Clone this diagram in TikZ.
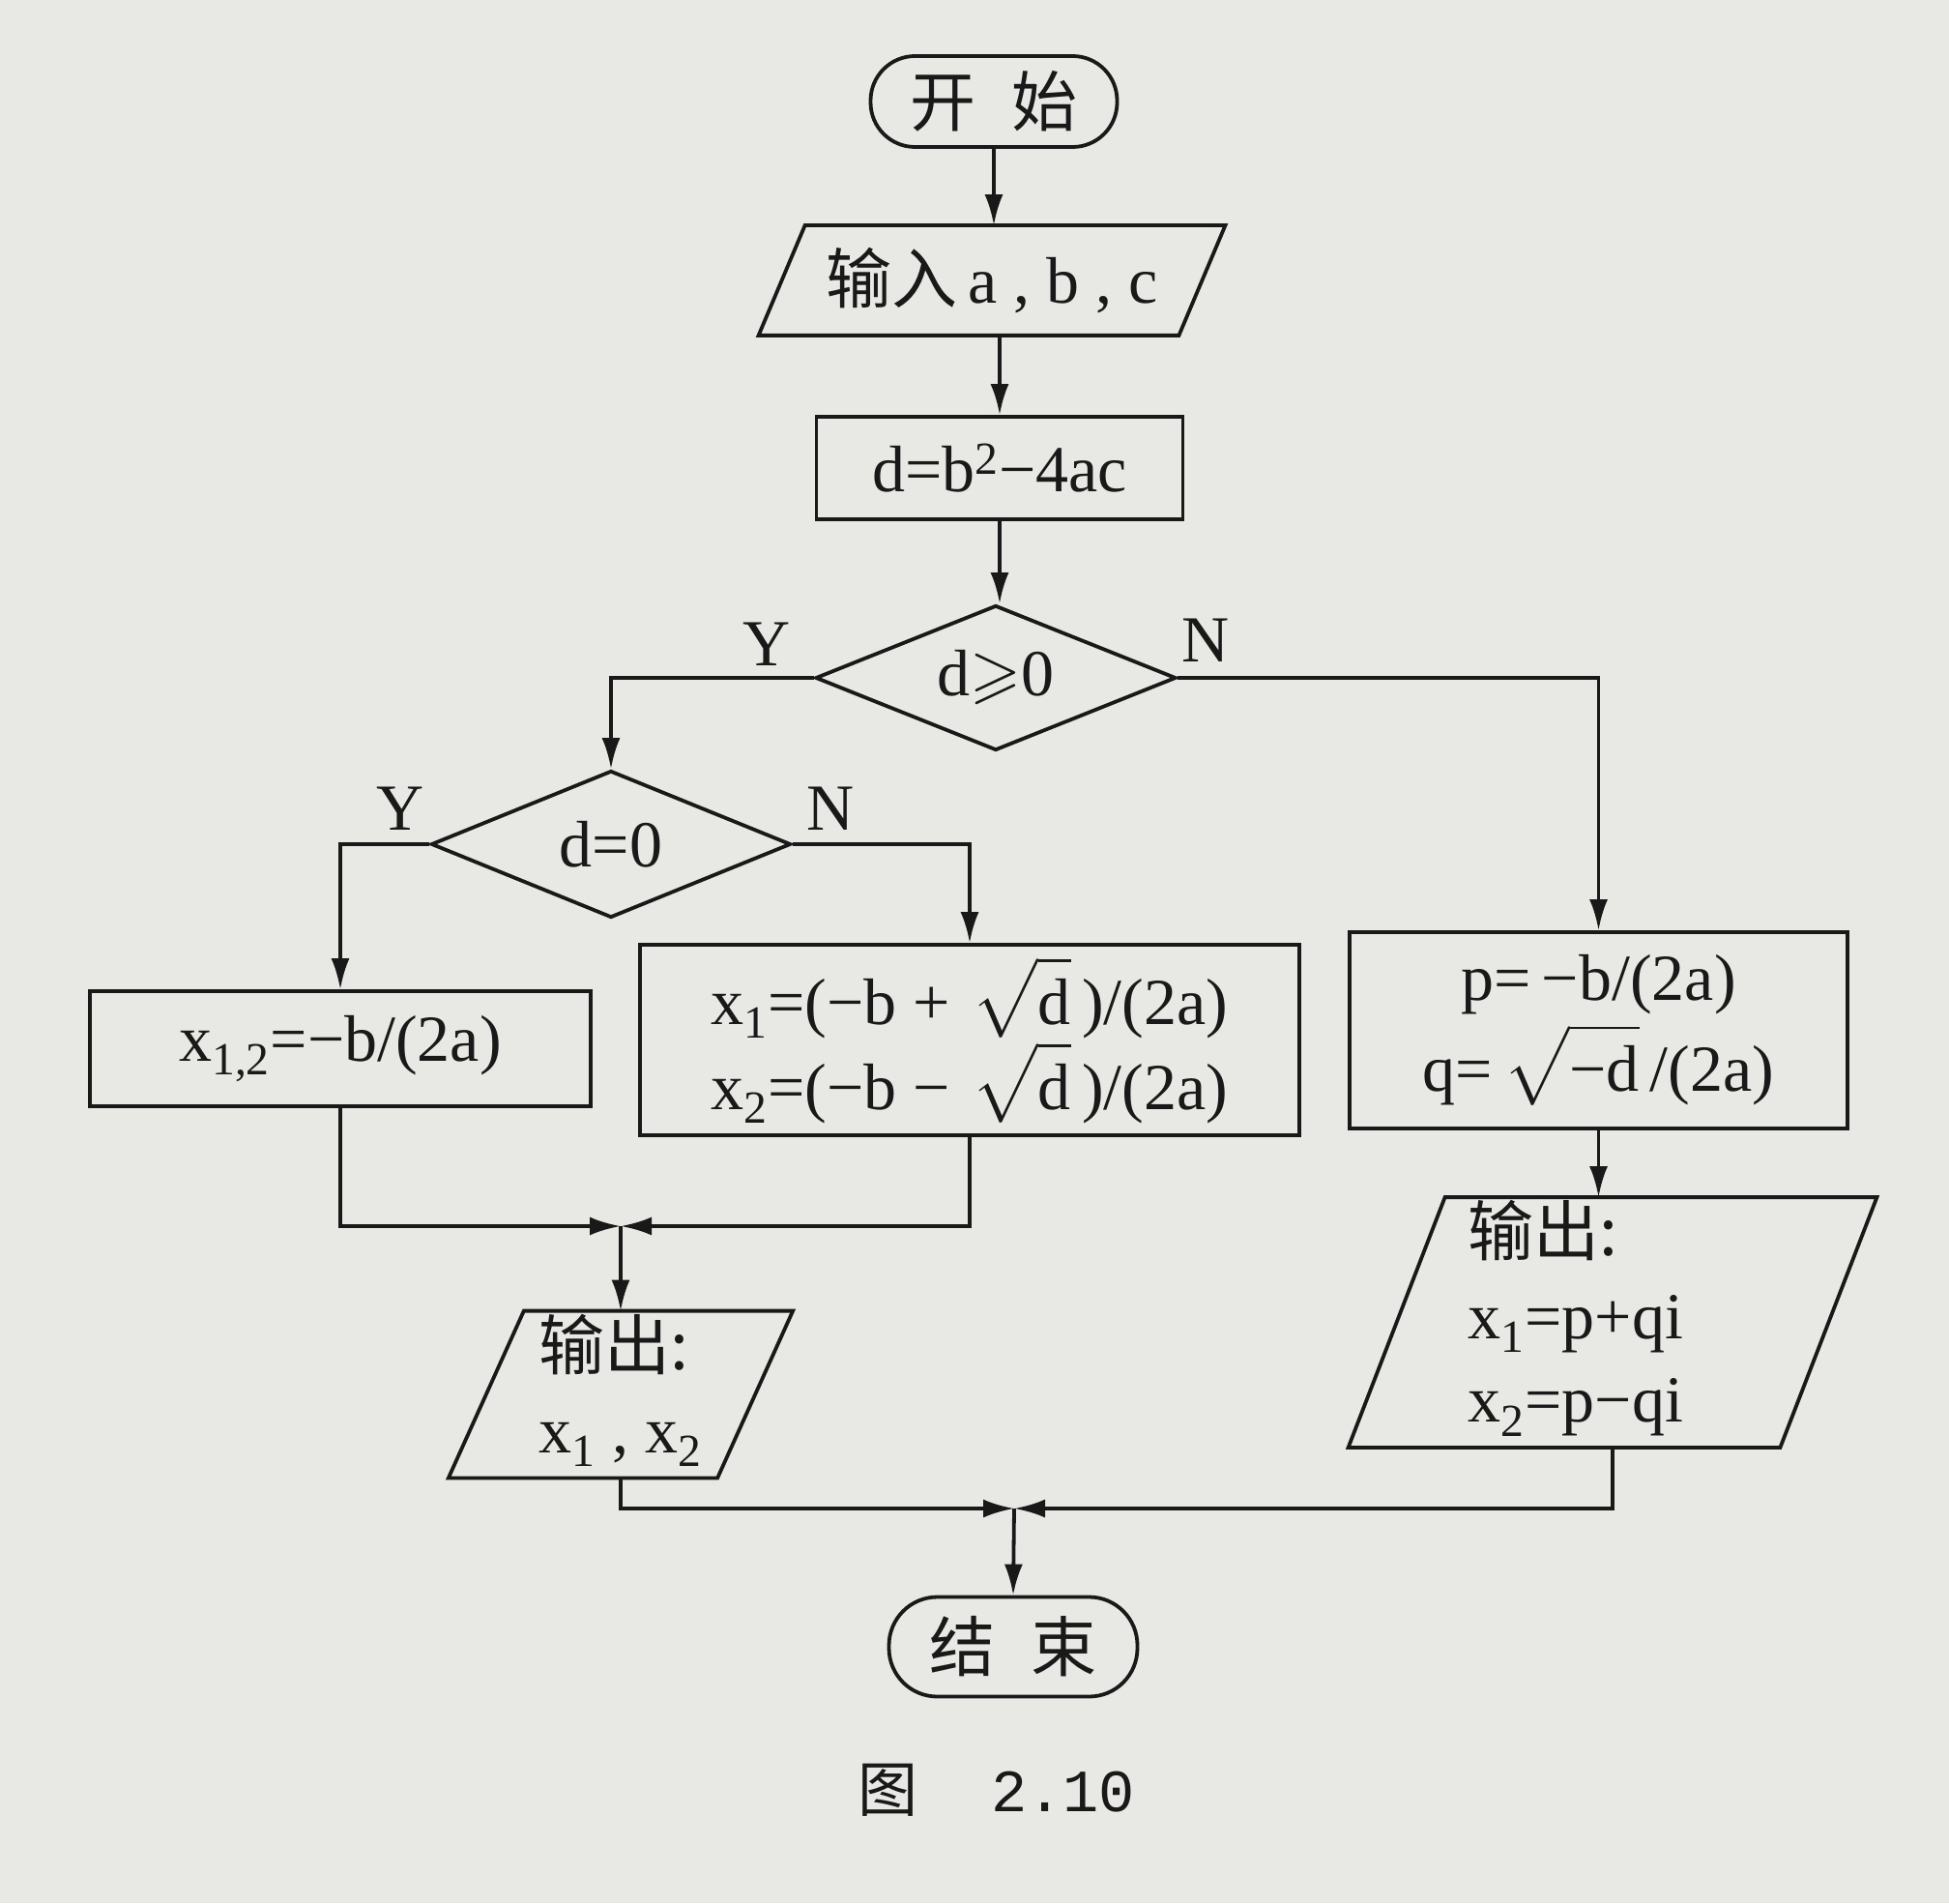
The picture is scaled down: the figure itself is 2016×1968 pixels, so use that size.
\documentclass[tikz,border=0pt]{standalone}
\usepackage{amsmath,amssymb}
\usepackage{fontspec}
\setmainfont{Liberation Serif}
\newfontfamily\cjk{Noto Sans CJK SC}
\newfontfamily\capmono{Liberation Mono}
\usetikzlibrary{arrows.meta,shapes.geometric,calc}
\definecolor{paper}{RGB}{232,232,229}
\definecolor{ink}{RGB}{25,25,25}
\begin{document}
\begin{tikzpicture}[x=0.5pt,y=-0.5pt,
  every node/.style={font=\fontsize{34}{43}\selectfont, text=ink},
  line/.style={draw=ink, line width=1.9pt},
  arr/.style={draw=ink, line width=1.9pt, -{Latex[length=16pt,width=9.5pt]}},
  term/.style={draw=ink, line width=1.9pt, rectangle, inner sep=0pt},
  procbox/.style={draw=ink, line width=1.9pt, rectangle, inner sep=0pt, align=center},
  iobox/.style={rectangle, inner sep=0pt, align=left},
  decision/.style={draw=ink, line width=1.9pt, diamond, inner sep=0pt, aspect=2.5},
  lbl/.style={inner sep=0pt}
]
\fill[paper] (0,0) rectangle (2016,1968);
\useasboundingbox (0,0) rectangle (2016,1968);

% start / end
\node[term, rounded corners=23pt, minimum width=127.5pt, minimum height=47pt] (start) at (1028,105) {\cjk 开\hspace{0.55em}始};

% input parallelogram
\node[iobox, minimum width=217pt, minimum height=56.5pt] (input) at (1026,290) {\cjk 输入\,\rmfamily a , b , c};
\draw[line] ($(input.north west)+(12pt,0)$) -- ($(input.north east)+(12pt,0)$) -- ($(input.south east)+(-12pt,0)$) -- ($(input.south west)+(-12pt,0)$) -- cycle;

\node[procbox, minimum width=189.5pt, minimum height=53pt] (dbox) at (1034,484) {d=b\textsuperscript{2}−4ac};

\node[decision, minimum width=186.5pt, minimum height=75pt] (dia1) at (1030,701) {d$\geqslant$0};
\node[decision, minimum width=186pt, minimum height=76pt] (dia2) at (632,873) {d=0};

\node[lbl] (y1) at (793,666) {Y};
\node[lbl] (n1) at (1247,662) {N};
\node[lbl] (y2) at (414,836) {Y};
\node[lbl] (n2) at (859,836) {N};

\node[procbox, minimum width=259pt, minimum height=59.5pt] (boxA) at (352,1084.5) {x\textsubscript{1,2}=−b/(2a)};
\node[procbox, minimum width=341pt, minimum height=98.5pt] (boxB) at (1003,1075.5)
  {x\textsubscript{1}=(−b +\,\,$\sqrt{\text{d}}$\,)/(2a)\\[1pt]x\textsubscript{2}=(−b −\,\,$\sqrt{\text{d}}$\,)/(2a)};
\node[procbox, minimum width=257.5pt, minimum height=101.5pt] (boxC) at (1653.5,1065.5)
  {p=\,−b/(2a)\\[4pt]q=\,$\sqrt{\text{−d}}$\,/(2a)};

% output left
\node[iobox, minimum width=138.75pt, minimum height=81.5pt] (outL) at (642,1442)
  {\begin{tabular}{@{}l@{}}{\cjk 输出:}\\x\textsubscript{1} , x\textsubscript{2}\end{tabular}};
\draw[line] ($(outL.north west)+(19.5pt,0)$) -- ($(outL.north east)+(19.5pt,0)$) -- ($(outL.south east)+(-19.5pt,0)$) -- ($(outL.south west)+(-19.5pt,0)$) -- cycle;

% output right
\node[iobox, minimum width=223pt, minimum height=126.5pt] (outR) at (1668,1367.5)
  {\begin{tabular}{@{}l@{}}{\cjk 输出:}\\x\textsubscript{1}=p+qi\\x\textsubscript{2}=p−qi\end{tabular}\hspace*{38pt}};
\draw[line] ($(outR.north west)+(25pt,0)$) -- ($(outR.north east)+(25pt,0)$) -- ($(outR.south east)+(-25pt,0)$) -- ($(outR.south west)+(-25pt,0)$) -- cycle;

\node[term, rounded corners=25pt, minimum width=128.5pt, minimum height=51.5pt] (end) at (1048,1703) {\cjk 结\hspace{0.55em}束};

\coordinate (m1) at (642,1268);
\coordinate (m2) at (1049,1560);

% connectors
\draw[arr] (start.south) -- (start.south |- input.north);
\draw[arr] (dbox.north |- input.south) -- (dbox.north);
\draw[arr] (dbox.south) -- (dbox.south |- dia1.north);
\draw[arr] (dia1.west) -| (dia2.north);
\draw[arr] (dia2.west) -| (boxA.north);
\draw[arr] (dia2.east) -| (boxB.north);
\draw[arr] (dia1.east) -| (boxC.north);
\draw[arr] (boxC.south) -- (boxC.south |- outR.north);
\draw[arr] (boxA.south) |- (m1);
\draw[arr] (boxB.south) |- (m1);
\draw[arr] (m1) -- (outL.north);
\draw[arr] (outL.south) |- (m2);
\draw[arr] (outR.south) |- (m2);
\draw[arr] (m2) -- (end.north);

\node[anchor=west, font=\fontsize{31}{38}\selectfont] (cap) at (880,1851) {\cjk 图\hspace{38pt}\capmono 2.10};
\end{tikzpicture}
\end{document}
